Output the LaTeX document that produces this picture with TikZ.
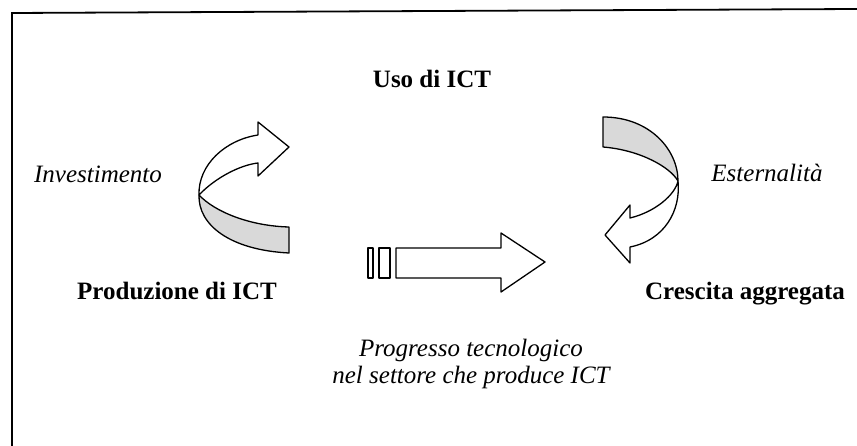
\documentclass[tikz,border=0pt]{standalone}
\usepackage{fontspec}
\setmainfont{Liberation Serif}
\usetikzlibrary{positioning}

\begin{document}
\begin{tikzpicture}[
    x=1pt, y=-1pt,
    sector/.style={font=\fontsize{25}{30}\selectfont\bfseries, anchor=base, inner sep=0pt},
    channel/.style={font=\fontsize{25}{30}\selectfont\itshape, anchor=base, inner sep=0pt},
    ribbon/.style={draw=black, line width=1.3pt, fill=white, line join=round},
    backside/.style={draw=black, line width=1.3pt, fill=gray!30, line join=round},
]
    \useasboundingbox (0,0) rectangle (857,446);
    % Frame
    \draw[line width=1.8pt] (12,446) -- (12,13) -- (857,9);

    % Nodes
    \node[sector]  (uso)   at (432,88)  {Uso di ICT};
    \node[sector]  (prod)  at (177,300) {Produzione di ICT};
    \node[sector]  (cresc) at (745,300) {Crescita aggregata};
    \node[channel] (inv)   at (98,183)  {Investimento};
    \node[channel] (est)   at (767,182) {Esternalità};
    \node[channel] (prog)  at (471,356) {Progresso tecnologico};
    \node[channel] (sett)  at (471,384) {nel settore che produce ICT};

    % Arrows
    \coordinate (ltwist) at (199,195);
    \draw[backside] (ltwist) .. controls (198,225) and (230,250) .. (289,253) -- (289,227)
        .. controls (250,226) and (215,212) .. (ltwist) -- cycle;
    \draw[ribbon] (ltwist) .. controls (198,165) and (225,140) .. (258,135) -- (258,122) -- (289,147)
        -- (258,176) -- (258,163) .. controls (240,165) and (215,178) .. (ltwist) -- cycle;

    \coordinate (rtwist) at (678,181);
    \draw[backside] (603,117) .. controls (650,117) and (678,150) .. (rtwist)
        .. controls (670,167) and (640,150) .. (603,147) -- cycle;
    \draw[ribbon] (rtwist) .. controls (681,210) and (665,240) .. (630,247) -- (630,263) -- (605,235)
        -- (630,205) -- (630,218) .. controls (655,212) and (675,195) .. (rtwist) -- cycle;

    \draw[ribbon] (368,248) rectangle (373,278);
    \draw[ribbon] (379,248) rectangle (390,278);
    \draw[ribbon] (396,248) -- (501,248) -- (501,233) -- (545,262) -- (501,292) -- (501,278) -- (396,278) -- cycle;
\end{tikzpicture}
\end{document}
